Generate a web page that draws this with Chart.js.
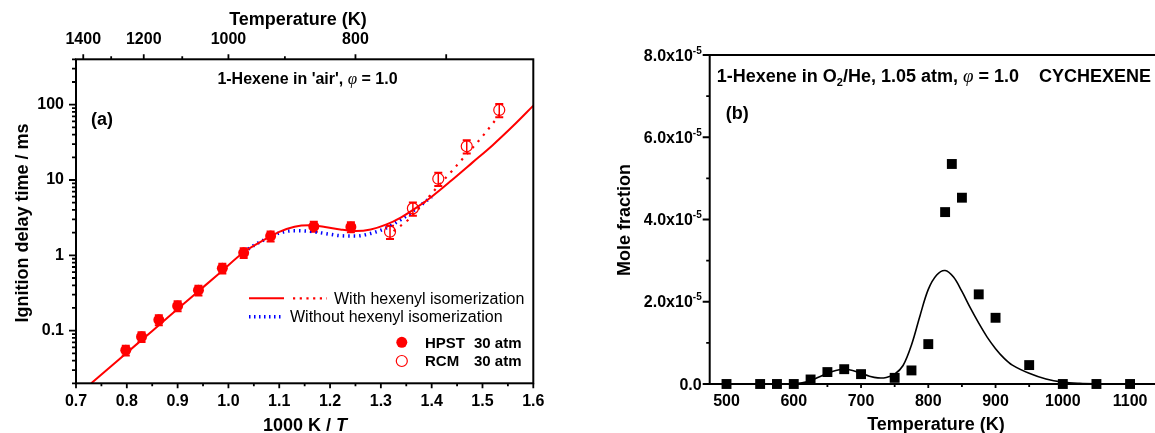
<!DOCTYPE html>
<html lang="en">
<head>
<meta charset="utf-8">
<title>1-Hexene: ignition delay and CYCHEXENE profile</title>
<script src="https://cdn.jsdelivr.net/npm/chart.js@4.4.1/dist/chart.umd.min.js"></script>
<style>
  html, body { margin: 0; padding: 0; background: #fff; overflow: hidden; }
  body { width: 1155px; height: 433px; position: relative; }
  .panel { position: absolute; top: 0; height: 433px; }
  #panelA { left: 0; width: 560px; }
  #panelB { left: 575px; width: 605px; }
</style>
</head>
<body>
<div class="panel" id="panelA"><canvas id="idtChart"></canvas></div>
<div class="panel" id="panelB"><canvas id="moleChart"></canvas></div>
<script>
// ---------- (a) ignition delay, 1-hexene in 'air', phi = 1.0, 30 atm ----------
const hpstInvT = [0.798, 0.829, 0.863, 0.900, 0.941, 0.988, 1.030, 1.083, 1.168, 1.241];
const hpstTau  = [0.055, 0.083, 0.139, 0.213, 0.344, 0.673, 1.08, 1.80, 2.42, 2.38];
const hpstErr  = [0.15, 0.15, 0.15, 0.15, 0.15, 0.15, 0.15, 0.15, 0.15, 0.15];

const rcmInvT = [1.318, 1.363, 1.413, 1.469, 1.533];
const rcmTau  = [2.06, 4.2, 10.4, 28, 85];
const rcmErr  = [0.2, 0.2, 0.2, 0.2, 0.2];

// model with hexenyl isomerization (solid = shock tube, dotted = RCM)
const isoInvT = [0.73, 0.78, 0.83, 0.88, 0.93, 0.98, 1.03, 1.07, 1.10, 1.13, 1.16, 1.19, 1.22, 1.25, 1.28, 1.31, 1.34, 1.37, 1.40, 1.44, 1.48, 1.52, 1.56, 1.60];
const isoTau  = [0.02, 0.039, 0.076, 0.148, 0.289, 0.56, 1.1, 1.6, 2.05, 2.4, 2.5, 2.38, 2.2, 2.1, 2.2, 2.55, 3.2, 4.3, 6.0, 10.0, 17, 29, 52, 97];
const isoRcmInvT = [1.325, 1.34, 1.355, 1.37, 1.385, 1.40, 1.42, 1.44, 1.46, 1.48, 1.50, 1.52, 1.535];
const isoRcmTau  = [2.1, 2.5, 3.0, 3.85, 5.0, 6.6, 9.4, 13.2, 18.8, 26.5, 38, 56, 76];

// model without hexenyl isomerization
const noIsoInvT = [1.03, 1.05, 1.07, 1.10, 1.13, 1.16, 1.19, 1.22, 1.25, 1.28, 1.31, 1.34, 1.37, 1.40];
const noIsoTau  = [1.1, 1.35, 1.6, 1.98, 2.12, 2.08, 1.95, 1.82, 1.80, 1.95, 2.3, 3.0, 4.2, 6.0];

const invTMajor = [0.7, 0.8, 0.9, 1.0, 1.1, 1.2, 1.3, 1.4, 1.5, 1.6];
const invTMinor = [0.75, 0.85, 0.95, 1.05, 1.15, 1.25, 1.35, 1.45, 1.55];
const tauMajor = [0.1, 1, 10, 100];
const tempLabeled = [1400, 1200, 1000, 800];
const tempMajor = [1400, 1200, 1000, 800, 700];
const tempMinor = [1300, 1100, 900];

// ---------- (b) CYCHEXENE, 1-hexene in O2/He, 1.05 atm, phi = 1.0 ----------
const jsrT = [500, 550, 575, 600, 625, 650, 675, 700, 750, 775, 800, 825, 835, 850, 875, 900, 950, 1000, 1050, 1100];
const jsrX = [0, 0, 0, 0, 0.11e-5, 0.29e-5, 0.36e-5, 0.24e-5, 0.15e-5, 0.33e-5, 0.97e-5, 4.18e-5, 5.35e-5, 4.53e-5, 2.18e-5, 1.61e-5, 0.46e-5, 0, 0, 0];
const modelT = [500, 550, 600, 612.5, 625, 637.5, 650, 662.5, 675, 687.5, 700, 712.5, 725, 737.5, 750, 762.5, 775, 787.5, 800, 812.5, 825, 837.5, 850, 862.5, 875, 887.5, 900, 912.5, 925, 950, 975, 1000, 1025, 1050, 1100];
const modelX = [0, 0, 0.01e-5, 0.03e-5, 0.08e-5, 0.17e-5, 0.26e-5, 0.33e-5, 0.36e-5, 0.33e-5, 0.26e-5, 0.19e-5, 0.15e-5, 0.16e-5, 0.24e-5, 0.45e-5, 0.95e-5, 1.65e-5, 2.3e-5, 2.65e-5, 2.76e-5, 2.6e-5, 2.25e-5, 1.85e-5, 1.48e-5, 1.14e-5, 0.86e-5, 0.63e-5, 0.46e-5, 0.26e-5, 0.12e-5, 0.045e-5, 0.015e-5, 0.005e-5, 0];
const tempTicks = [500, 600, 700, 800, 900, 1000, 1100];
const tempTicksMinor = [550, 650, 750, 850, 950, 1050, 1150];
const moleMajor = [0, 2e-5, 4e-5, 6e-5, 8e-5];
const moleMinor = [1e-5, 3e-5, 5e-5, 7e-5];

// ---------- helpers ----------
const SANS = "'Liberation Sans', Arial, sans-serif";
const SERIF = "'Liberation Serif', 'Times New Roman', serif";
const RED = '#ff0000';
const BLUE = '#0000ff';
const pts = (xs, ys) => xs.map((x, i) => ({ x, y: ys[i] }));
const tickFont = { family: SANS, size: 16, weight: 'bold' };

// minor ticks of the log axis: 2..9 in every decade up to 400
const tauMinor = [];
[0.01, 0.1, 1, 10, 100].forEach(d => {
  for (let k = 2; k <= 9; k++) if (d * k <= 400 && d * k >= 0.02) tauMinor.push(d * k);
});

function tickMarks(ctx, scale, values, len, side) {
  const a = scale.chart.chartArea;
  ctx.beginPath();
  values.forEach(v => {
    const p = scale.getPixelForValue(v);
    if (side === 'bottom') { ctx.moveTo(p, a.bottom); ctx.lineTo(p, a.bottom + len); }
    if (side === 'top') { ctx.moveTo(p, a.top); ctx.lineTo(p, a.top - len); }
    if (side === 'left') { ctx.moveTo(a.left, p); ctx.lineTo(a.left - len, p); }
  });
  ctx.stroke();
}

// text made of runs with their own font and vertical shift
function runsWidth(ctx, runs) {
  return runs.reduce((w, r) => { ctx.font = r[1]; return w + ctx.measureText(r[0]).width; }, 0);
}
function drawRuns(ctx, x, y, runs, align) {
  let cx = align === 'center' ? x - runsWidth(ctx, runs) / 2 : x;
  ctx.textAlign = 'left';
  runs.forEach(([t, f, dy]) => {
    ctx.font = f;
    ctx.fillText(t, cx, y + (dy || 0));
    cx += ctx.measureText(t).width;
  });
}

function rotatedTitle(ctx, text, x, y) {
  ctx.save();
  ctx.translate(x, y);
  ctx.rotate(-Math.PI / 2);
  ctx.textAlign = 'center';
  ctx.textBaseline = 'alphabetic';
  ctx.font = `bold 18px ${SANS}`;
  ctx.fillText(text, 0, 0);
  ctx.restore();
}

// ---------- error bars ----------
const errorBars = {
  id: 'errorBars',
  beforeDatasetsDraw(chart) {
    const { ctx } = chart;
    const ys = chart.scales.y;
    chart.data.datasets.forEach((ds, di) => {
      if (!ds.errors) return;
      const meta = chart.getDatasetMeta(di);
      ctx.save();
      ctx.strokeStyle = ds.borderColor;
      meta.data.forEach((el, i) => {
        const v = ds.data[i].y;
        const top = ys.getPixelForValue(v * (1 + ds.errors[i]));
        const bot = ys.getPixelForValue(v * (1 - ds.errors[i]));
        ctx.lineWidth = 1.5;
        ctx.beginPath();
        ctx.moveTo(el.x, top); ctx.lineTo(el.x, bot);
        ctx.stroke();
        ctx.lineWidth = 2;
        ctx.beginPath();
        ctx.moveTo(el.x - 4, top); ctx.lineTo(el.x + 4, top);
        ctx.moveTo(el.x - 4, bot); ctx.lineTo(el.x + 4, bot);
        ctx.stroke();
      });
      ctx.restore();
    });
  }
};

// ---------- frame, ticks, titles and legend of (a) ----------
const idtDecor = {
  id: 'idtDecor',
  afterDraw(chart) {
    const { ctx, chartArea: a, scales } = chart;
    ctx.save();
    ctx.strokeStyle = '#000';
    ctx.lineWidth = 2;
    ctx.strokeRect(a.left, a.top, a.right - a.left, a.bottom - a.top);
    ctx.lineWidth = 1.8;
    tickMarks(ctx, scales.x, invTMajor, 5, 'bottom');
    tickMarks(ctx, scales.x, invTMinor, 3, 'bottom');
    tickMarks(ctx, scales.y, tauMajor, 7, 'left');
    tickMarks(ctx, scales.y, tauMinor, 4, 'left');
    tickMarks(ctx, scales.xTop, tempMajor.map(t => 1000 / t), 5, 'top');
    tickMarks(ctx, scales.xTop, tempMinor.map(t => 1000 / t), 3, 'top');

    ctx.fillStyle = '#000';
    ctx.textBaseline = 'alphabetic';
    ctx.textAlign = 'center';
    ctx.font = `bold 18px ${SANS}`;
    ctx.fillText('Temperature (K)', 298, 25);
    drawRuns(ctx, 305, 431, [['1000 K / ', `bold 18px ${SANS}`], ['T', `italic bold 18px ${SANS}`]], 'center');
    rotatedTitle(ctx, 'Ignition delay time / ms', 27.5, 223);

    drawRuns(ctx, 307.5, 84, [
      ["1-Hexene in 'air', ", `bold 16px ${SANS}`],
      ['\u03c6', `italic 17px ${SERIF}`],
      [' = 1.0', `bold 16px ${SANS}`]
    ], 'center');
    ctx.textAlign = 'left';
    ctx.font = `bold 18px ${SANS}`;
    ctx.fillText('(a)', 91, 125);

    // legend
    ctx.lineCap = 'butt';
    ctx.strokeStyle = RED;
    ctx.lineWidth = 2;
    ctx.beginPath(); ctx.moveTo(249, 298.3); ctx.lineTo(284, 298.3); ctx.stroke();
    ctx.lineWidth = 2.2;
    ctx.setLineDash([2.2, 4.5]);
    ctx.beginPath(); ctx.moveTo(293, 298.3); ctx.lineTo(327, 298.3); ctx.stroke();
    ctx.strokeStyle = BLUE;
    ctx.lineWidth = 3.5;
    ctx.setLineDash([1.5, 3.5]);
    ctx.beginPath(); ctx.moveTo(249, 316.7); ctx.lineTo(282, 316.7); ctx.stroke();
    ctx.setLineDash([]);

    ctx.fillStyle = '#000';
    ctx.font = `16px ${SANS}`;
    ctx.fillText('With hexenyl isomerization', 334, 304);
    ctx.fillText('Without hexenyl isomerization', 290, 322.4);

    ctx.fillStyle = RED;
    ctx.beginPath(); ctx.arc(401.8, 342.3, 5.5, 0, Math.PI * 2); ctx.fill();
    ctx.strokeStyle = RED;
    ctx.lineWidth = 1.2;
    ctx.beginPath(); ctx.arc(401.8, 361, 5.5, 0, Math.PI * 2); ctx.stroke();
    ctx.fillStyle = '#000';
    ctx.font = `bold 15px ${SANS}`;
    ctx.fillText('HPST', 425, 347.7);
    ctx.fillText('30 atm', 474, 347.7);
    ctx.fillText('RCM', 425, 366.4);
    ctx.fillText('30 atm', 474, 366.4);
    ctx.restore();
  }
};

// ---------- frame, ticks, labels of (b) ----------
const moleDecor = {
  id: 'moleDecor',
  afterDraw(chart) {
    const { ctx, chartArea: a, scales } = chart;
    ctx.save();
    ctx.strokeStyle = '#000';
    ctx.lineWidth = 2;
    ctx.strokeRect(a.left, a.top, a.right - a.left, a.bottom - a.top);
    ctx.lineWidth = 1.8;
    tickMarks(ctx, scales.x, tempTicks, 4, 'bottom');
    tickMarks(ctx, scales.x, tempTicksMinor, 3, 'bottom');
    tickMarks(ctx, scales.y, moleMajor, 7, 'left');
    tickMarks(ctx, scales.y, moleMinor, 3.5, 'left');

    // y tick labels as  m.0x10^-5
    const rightEdge = a.left - 8;
    ctx.fillStyle = '#000';
    ctx.textBaseline = 'alphabetic';
    moleMajor.forEach(v => {
      const p = scales.y.getPixelForValue(v);
      ctx.textAlign = 'right';
      if (v === 0) {
        ctx.font = `bold 16px ${SANS}`;
        ctx.fillText('0.0', rightEdge, p + 5.7);
        return;
      }
      ctx.font = `bold 10px ${SANS}`;
      const supW = ctx.measureText('-5').width;
      ctx.fillText('-5', rightEdge, p - 1.5);
      ctx.font = `bold 16px ${SANS}`;
      ctx.fillText((v / 1e-5).toFixed(1) + 'x10', rightEdge - supW, p + 5.7);
    });

    ctx.textAlign = 'center';
    ctx.font = `bold 18px ${SANS}`;
    ctx.fillText('Temperature (K)', 936 - 575, 430);
    rotatedTitle(ctx, 'Mole fraction', 630 - 575, 220);

    drawRuns(ctx, 716.8 - 575, 81.5, [
      ['1-Hexene in O', `bold 18px ${SANS}`],
      ['2', `bold 11px ${SANS}`, 4],
      ['/He, 1.05 atm, ', `bold 18px ${SANS}`],
      ['\u03c6', `italic 19px ${SERIF}`],
      [' = 1.0', `bold 18px ${SANS}`]
    ], 'left');
    ctx.textAlign = 'left';
    ctx.font = `bold 18px ${SANS}`;
    ctx.fillText('CYCHEXENE', 1039 - 575, 81.5);
    ctx.fillText('(b)', 725.7 - 575, 119);
    ctx.restore();
  }
};

const hiddenGrid = { display: false, drawTicks: false };

// ---------- chart (a) ----------
new Chart(document.getElementById('idtChart'), {
  type: 'scatter',
  data: {
    datasets: [
      { label: 'HPST 30 atm', data: pts(hpstInvT, hpstTau), errors: hpstErr,
        pointRadius: 5.5, backgroundColor: RED, borderColor: RED, borderWidth: 0 },
      { label: 'RCM 30 atm', data: pts(rcmInvT, rcmTau), errors: rcmErr,
        pointRadius: 5.5, backgroundColor: 'rgba(0,0,0,0)', borderColor: RED, borderWidth: 1.2 },
      { label: 'With hexenyl isomerization', data: pts(isoInvT, isoTau), showLine: true,
        borderColor: RED, borderWidth: 2, pointRadius: 0, cubicInterpolationMode: 'monotone' },
      { label: 'With hexenyl isomerization (RCM)', data: pts(isoRcmInvT, isoRcmTau), showLine: true,
        borderColor: RED, borderWidth: 2.2, borderDash: [2.2, 6], pointRadius: 0, cubicInterpolationMode: 'monotone' },
      { label: 'Without hexenyl isomerization', data: pts(noIsoInvT, noIsoTau), showLine: true,
        borderColor: BLUE, borderWidth: 3.5, borderDash: [1.5, 4], borderCapStyle: 'butt', pointRadius: 0, cubicInterpolationMode: 'monotone' }
    ]
  },
  options: {
    responsive: true,
    maintainAspectRatio: false,
    animation: false,
    layout: { padding: { left: 0, right: 26.7, top: 0, bottom: 0 } },
    plugins: { legend: { display: false }, tooltip: { enabled: false } },
    scales: {
      x: {
        type: 'linear', position: 'bottom', min: 0.7, max: 1.6,
        afterBuildTicks: s => { s.ticks = invTMajor.map(value => ({ value })); },
        afterFit: s => { s.height = 49.7; },
        grid: hiddenGrid, border: { display: false },
        ticks: { color: '#000', font: tickFont, padding: 9, autoSkip: false, maxRotation: 0,
          callback: v => v.toFixed(1) }
      },
      xTop: {
        type: 'linear', position: 'top', min: 0.7, max: 1.6,
        afterBuildTicks: s => { s.ticks = tempLabeled.map(t => ({ value: 1000 / t })); },
        afterFit: s => { s.height = 59.3; },
        grid: hiddenGrid, border: { display: false },
        ticks: { color: '#000', font: tickFont, padding: 10, autoSkip: false, maxRotation: 0,
          callback: v => String(Math.round(1000 / v)) }
      },
      y: {
        type: 'logarithmic', min: 0.02, max: 400,
        afterBuildTicks: s => { s.ticks = tauMajor.map(value => ({ value })); },
        afterFit: s => { s.width = 76; },
        grid: hiddenGrid, border: { display: false },
        ticks: { color: '#000', font: tickFont, padding: 12, autoSkip: false,
          callback: v => String(v) }
      }
    }
  },
  plugins: [errorBars, idtDecor]
});

// ---------- chart (b) ----------
new Chart(document.getElementById('moleChart'), {
  type: 'scatter',
  data: {
    datasets: [
      { label: 'CYCHEXENE', data: pts(jsrT, jsrX), pointStyle: 'rect', pointRadius: 7,
        backgroundColor: '#000', borderColor: '#000', borderWidth: 0, clip: false },
      { label: 'Model', data: pts(modelT, modelX), showLine: true, borderColor: '#000',
        borderWidth: 1.6, pointRadius: 0, tension: 0.35 }
    ]
  },
  options: {
    responsive: true,
    maintainAspectRatio: false,
    animation: false,
    layout: { padding: { left: 0, right: 16.3, top: 55, bottom: 0 } },
    plugins: { legend: { display: false }, tooltip: { enabled: false } },
    scales: {
      x: {
        type: 'linear', min: 475, max: 1150,
        afterBuildTicks: s => { s.ticks = tempTicks.map(value => ({ value })); },
        afterFit: s => { s.height = 49; },
        grid: hiddenGrid, border: { display: false },
        ticks: { color: '#000', font: tickFont, padding: 8, autoSkip: false, maxRotation: 0,
          callback: v => String(v) }
      },
      y: {
        type: 'linear', min: 0, max: 8e-5,
        afterBuildTicks: s => { s.ticks = moleMajor.map(value => ({ value })); },
        afterFit: s => { s.width = 134.7; },
        grid: hiddenGrid, border: { display: false },
        ticks: { display: false }
      }
    }
  },
  plugins: [moleDecor]
});
</script>
</body>
</html>
